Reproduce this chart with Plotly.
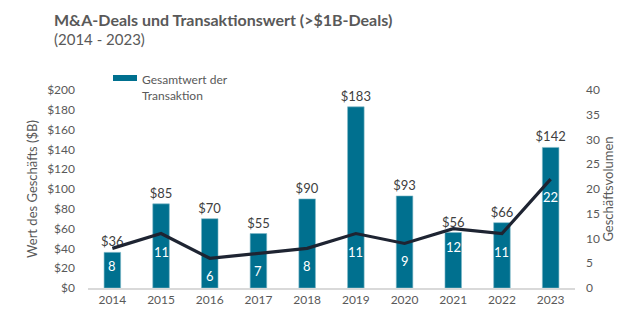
import plotly.graph_objects as go

years = ["2014", "2015", "2016", "2017", "2018", "2019", "2020", "2021", "2022", "2023"]
deal_value = [36, 85, 70, 55, 90, 183, 93, 56, 66, 142]
deal_count = [8, 11, 6, 7, 8, 11, 9, 12, 11, 22]
left_ticks = [0, 20, 40, 60, 80, 100, 120, 140, 160, 180, 200]
right_ticks = [0, 5, 10, 15, 20, 25, 30, 35, 40]

FONT = "Lato"
GREY = "#595959"
BAR = "#00708f"
LINE = "#1e2432"

PLOT_LEFT, PLOT_RIGHT = 88, 575
PLOT_TOP, PLOT_BOTTOM = 90, 288
PLOT_W = PLOT_RIGHT - PLOT_LEFT
PLOT_H = PLOT_BOTTOM - PLOT_TOP


def px(pixel_x):
    """Convert a pixel column into a paper x-coordinate."""
    return (pixel_x - PLOT_LEFT) / PLOT_W


def py(pixel_y):
    """Convert a pixel row into a paper y-coordinate."""
    return (PLOT_BOTTOM - pixel_y) / PLOT_H


fig = go.Figure()
fig.add_trace(go.Bar(
    x=years, y=deal_value, name="Gesamtwert der Transaktion",
    marker=dict(color=BAR, line=dict(color="#7fb8c8", width=0.6)),
    width=0.34,
    text=[f"${v}" for v in deal_value], textposition="outside",
    constraintext="none",
    textfont=dict(family=FONT, size=13, color="#404040"),
    cliponaxis=False, showlegend=False,
))
fig.add_trace(go.Scatter(
    x=years, y=deal_count, yaxis="y2", mode="lines",
    line=dict(color=LINE, width=3.2),
    showlegend=False, cliponaxis=False,
))

annotations = []
# deal counts written in white just below each point of the line
# (x given as the category index so the numeric-looking year is not read as a position)
for i, c in enumerate(deal_count):
    annotations.append(dict(
        x=i, y=c, xref="x", yref="y2", text=str(c), showarrow=False,
        yshift=-18, font=dict(family=FONT, size=13, color="white"),
    ))

# title and subtitle
annotations.append(dict(
    x=px(52), y=py(20), xref="paper", yref="paper",
    text="<b>M&A-Deals und Transaktionswert (>$1B-Deals)</b>",
    showarrow=False, xanchor="left", yanchor="middle",
    font=dict(family=FONT, size=16, color=GREY),
))
annotations.append(dict(
    x=px(52), y=py(39), xref="paper", yref="paper", text="(2014 - 2023)",
    showarrow=False, xanchor="left", yanchor="middle",
    font=dict(family=FONT, size=15, color=GREY),
))

# legend entry for the bars
annotations.append(dict(
    x=px(140), y=py(70), xref="paper", yref="paper",
    text="Gesamtwert der<br>Transaktion", align="left",
    showarrow=False, xanchor="left", yanchor="top",
    font=dict(family=FONT, size=12, color=GREY),
))
shapes = [dict(
    type="rect", xref="paper", yref="paper",
    x0=px(113), x1=px(137), y0=py(81), y1=py(75),
    fillcolor=BAR, line=dict(width=0),
)]

fig.update_layout(
    width=640, height=326,
    margin=dict(l=PLOT_LEFT, r=640 - PLOT_RIGHT, t=PLOT_TOP, b=326 - PLOT_BOTTOM),
    paper_bgcolor="white", plot_bgcolor="white",
    font=dict(family=FONT, size=12, color=GREY),
    xaxis=dict(
        type="category", range=[-0.5, len(years) - 0.5],
        showgrid=False, showline=True, linecolor="#d9d9d9", linewidth=2,
        ticks="", tickfont=dict(size=12, color=GREY),
    ),
    yaxis=dict(
        range=[0, 200], tickvals=left_ticks, ticktext=[f"${t}" for t in left_ticks],
        showgrid=False, zeroline=False, ticks="", ticklabelstandoff=12,
        tickfont=dict(size=12, color=GREY),
        title=dict(text="Wert des Geschäfts ($B)", font=dict(size=13, color=GREY), standoff=6),
    ),
    yaxis2=dict(
        range=[0, 40], tickvals=right_ticks, overlaying="y", side="right",
        showgrid=False, zeroline=False, ticks="", ticklabelstandoff=10,
        tickfont=dict(size=12, color=GREY),
        title=dict(text="Geschäftsvolumen", font=dict(size=13, color=GREY), standoff=4),
    ),
    annotations=annotations,
    shapes=shapes,
)

fig.write_html("out.html")
